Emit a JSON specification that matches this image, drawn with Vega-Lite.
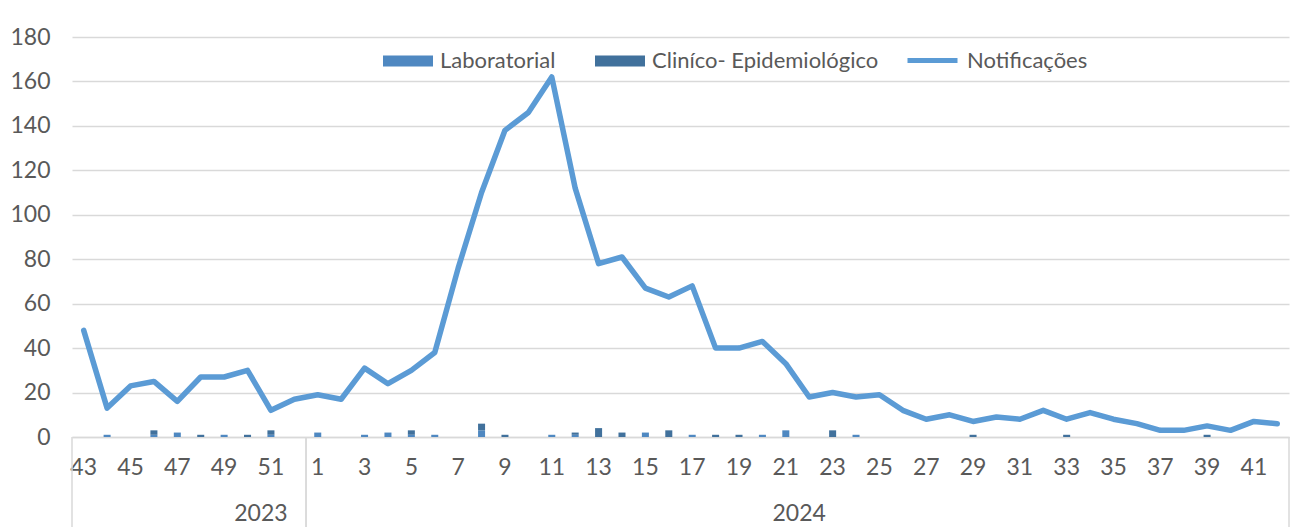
{
  "$schema": "https://vega.github.io/schema/vega-lite/v6.json",
  "autosize": "none",
  "width": 1217,
  "height": 400,
  "padding": {"left": 72, "top": 37, "right": 12, "bottom": 90},
  "background": "white",
  "config": {
    "font": "Lato, sans-serif",
    "view": {"stroke": null}
  },
  "datasets": {
    "semanas": [
      {"ano": "2023", "semana": "43", "notificacoes": 48, "lab": 0, "clin": 0},
      {"ano": "2023", "semana": "44", "notificacoes": 13, "lab": 1, "clin": 0},
      {"ano": "2023", "semana": "45", "notificacoes": 23, "lab": 0, "clin": 0},
      {"ano": "2023", "semana": "46", "notificacoes": 25, "lab": 1, "clin": 2},
      {"ano": "2023", "semana": "47", "notificacoes": 16, "lab": 2, "clin": 0},
      {"ano": "2023", "semana": "48", "notificacoes": 27, "lab": 0, "clin": 1},
      {"ano": "2023", "semana": "49", "notificacoes": 27, "lab": 1, "clin": 0},
      {"ano": "2023", "semana": "50", "notificacoes": 30, "lab": 0, "clin": 1},
      {"ano": "2023", "semana": "51", "notificacoes": 12, "lab": 1, "clin": 2},
      {"ano": "2023", "semana": "52", "notificacoes": 17, "lab": 0, "clin": 0},
      {"ano": "2024", "semana": "1", "notificacoes": 19, "lab": 2, "clin": 0},
      {"ano": "2024", "semana": "2", "notificacoes": 17, "lab": 0, "clin": 0},
      {"ano": "2024", "semana": "3", "notificacoes": 31, "lab": 1, "clin": 0},
      {"ano": "2024", "semana": "4", "notificacoes": 24, "lab": 2, "clin": 0},
      {"ano": "2024", "semana": "5", "notificacoes": 30, "lab": 1, "clin": 2},
      {"ano": "2024", "semana": "6", "notificacoes": 38, "lab": 1, "clin": 0},
      {"ano": "2024", "semana": "7", "notificacoes": 76, "lab": 0, "clin": 0},
      {"ano": "2024", "semana": "8", "notificacoes": 110, "lab": 3, "clin": 3},
      {"ano": "2024", "semana": "9", "notificacoes": 138, "lab": 0, "clin": 1},
      {"ano": "2024", "semana": "10", "notificacoes": 146, "lab": 0, "clin": 0},
      {"ano": "2024", "semana": "11", "notificacoes": 162, "lab": 1, "clin": 0},
      {"ano": "2024", "semana": "12", "notificacoes": 112, "lab": 1, "clin": 1},
      {"ano": "2024", "semana": "13", "notificacoes": 78, "lab": 0, "clin": 4},
      {"ano": "2024", "semana": "14", "notificacoes": 81, "lab": 0, "clin": 2},
      {"ano": "2024", "semana": "15", "notificacoes": 67, "lab": 2, "clin": 0},
      {"ano": "2024", "semana": "16", "notificacoes": 63, "lab": 0, "clin": 3},
      {"ano": "2024", "semana": "17", "notificacoes": 68, "lab": 1, "clin": 0},
      {"ano": "2024", "semana": "18", "notificacoes": 40, "lab": 0, "clin": 1},
      {"ano": "2024", "semana": "19", "notificacoes": 40, "lab": 0, "clin": 1},
      {"ano": "2024", "semana": "20", "notificacoes": 43, "lab": 1, "clin": 0},
      {"ano": "2024", "semana": "21", "notificacoes": 33, "lab": 3, "clin": 0},
      {"ano": "2024", "semana": "22", "notificacoes": 18, "lab": 0, "clin": 0},
      {"ano": "2024", "semana": "23", "notificacoes": 20, "lab": 0, "clin": 3},
      {"ano": "2024", "semana": "24", "notificacoes": 18, "lab": 1, "clin": 0},
      {"ano": "2024", "semana": "25", "notificacoes": 19, "lab": 0, "clin": 0},
      {"ano": "2024", "semana": "26", "notificacoes": 12, "lab": 0, "clin": 0},
      {"ano": "2024", "semana": "27", "notificacoes": 8, "lab": 0, "clin": 0},
      {"ano": "2024", "semana": "28", "notificacoes": 10, "lab": 0, "clin": 0},
      {"ano": "2024", "semana": "29", "notificacoes": 7, "lab": 0, "clin": 1},
      {"ano": "2024", "semana": "30", "notificacoes": 9, "lab": 0, "clin": 0},
      {"ano": "2024", "semana": "31", "notificacoes": 8, "lab": 0, "clin": 0},
      {"ano": "2024", "semana": "32", "notificacoes": 12, "lab": 0, "clin": 0},
      {"ano": "2024", "semana": "33", "notificacoes": 8, "lab": 0, "clin": 1},
      {"ano": "2024", "semana": "34", "notificacoes": 11, "lab": 0, "clin": 0},
      {"ano": "2024", "semana": "35", "notificacoes": 8, "lab": 0, "clin": 0},
      {"ano": "2024", "semana": "36", "notificacoes": 6, "lab": 0, "clin": 0},
      {"ano": "2024", "semana": "37", "notificacoes": 3, "lab": 0, "clin": 0},
      {"ano": "2024", "semana": "38", "notificacoes": 3, "lab": 0, "clin": 0},
      {"ano": "2024", "semana": "39", "notificacoes": 5, "lab": 0, "clin": 1},
      {"ano": "2024", "semana": "40", "notificacoes": 3, "lab": 0, "clin": 0},
      {"ano": "2024", "semana": "41", "notificacoes": 7, "lab": 0, "clin": 0},
      {"ano": "2024", "semana": "42", "notificacoes": 6, "lab": 0, "clin": 0}
    ],
    "anos": [
      {"ano": "2023", "inicio": "43", "fim": "52", "rotulo": "51"},
      {"ano": "2024", "inicio": "1", "fim": "42", "rotulo": "22"}
    ]
  },
  "encoding": {
    "x": {
      "field": "semana",
      "type": "ordinal",
      "scale": {
        "domain": ["43","44","45","46","47","48","49","50","51","52","1","2","3","4","5","6","7","8","9","10","11","12","13","14","15","16","17","18","19","20","21","22","23","24","25","26","27","28","29","30","31","32","33","34","35","36","37","38","39","40","41","42"],
        "paddingInner": 0,
        "paddingOuter": 0
      },
      "axis": {
        "title": null,
        "labelAngle": 0,
        "labelFontSize": 23,
        "labelColor": "#595959",
        "labelPadding": 19,
        "ticks": false,
        "domainColor": "#D9D9D9",
        "domainWidth": 1.5,
        "labelExpr": "parseInt(datum.label) % 2 == 1 ? datum.label : ''"
      }
    }
  },
  "layer": [
    {
      "data": {"name": "semanas"},
      "transform": [{"fold": ["lab", "clin"], "as": ["serie", "casos"]}],
      "mark": {"type": "bar", "width": {"band": 0.3}},
      "encoding": {
        "y": {
          "field": "casos",
          "type": "quantitative",
          "stack": "zero",
          "scale": {"domain": [0, 180], "nice": false},
          "axis": {
            "title": null,
            "values": [0, 20, 40, 60, 80, 100, 120, 140, 160, 180],
            "labelFontSize": 23,
            "labelColor": "#595959",
            "labelPadding": 22,
            "ticks": false,
            "domain": false,
            "gridColor": "#D9D9D9",
            "gridWidth": 1.5
          }
        },
        "fill": {
          "field": "serie",
          "type": "nominal",
          "scale": {"domain": ["lab", "clin"], "range": ["#4F88C1", "#41719C"]},
          "legend": {
            "title": null,
            "orient": "none",
            "direction": "horizontal",
            "legendX": 311,
            "legendY": -1,
            "symbolType": "M-1,-0.22H1V0.22H-1Z",
            "symbolSize": 2500,
            "symbolStrokeWidth": 0,
            "labelFontSize": 22,
            "labelColor": "#595959",
            "labelOffset": 7,
            "labelLimit": 500,
            "columnPadding": 39,
            "labelExpr": "datum.value == 'lab' ? 'Laboratorial' : 'Cliníco- Epidemiológico'"
          }
        },
        "order": {"field": "serie", "sort": "descending"}
      }
    },
    {
      "data": {"name": "semanas"},
      "mark": {"type": "line", "strokeWidth": 5.5, "strokeJoin": "round", "strokeCap": "round"},
      "encoding": {
        "y": {"field": "notificacoes", "type": "quantitative"},
        "stroke": {
          "datum": "Notificações",
          "type": "nominal",
          "scale": {"range": ["#5B9BD5"]},
          "legend": {
            "title": null,
            "orient": "none",
            "legendX": 833,
            "legendY": -4,
            "symbolType": "stroke",
            "symbolSize": 2500,
            "symbolStrokeWidth": 5,
            "labelFontSize": 22,
            "labelColor": "#595959",
            "labelOffset": 7,
            "labelLimit": 500
          }
        }
      }
    },
    {
      "data": {"name": "anos"},
      "mark": {"type": "rule", "color": "#D9D9D9", "strokeWidth": 1.5},
      "encoding": {
        "x": {"field": "inicio", "type": "ordinal", "bandPosition": 0},
        "y": {"datum": 0},
        "y2": {"datum": -42}
      }
    },
    {
      "data": {"name": "anos"},
      "mark": {"type": "rule", "color": "#D9D9D9", "strokeWidth": 1.5},
      "encoding": {
        "x": {"field": "fim", "type": "ordinal", "bandPosition": 1},
        "y": {"datum": 0},
        "y2": {"datum": -42}
      }
    },
    {
      "data": {"name": "anos"},
      "mark": {"type": "text", "fontSize": 23, "color": "#595959", "baseline": "alphabetic", "dx": -10},
      "encoding": {
        "x": {"field": "rotulo", "type": "ordinal"},
        "y": {"datum": -38},
        "text": {"field": "ano"}
      }
    }
  ]
}
